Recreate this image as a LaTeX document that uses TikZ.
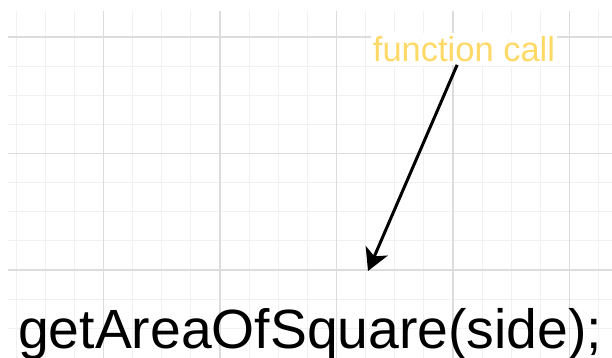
\documentclass[tikz,border=0pt]{standalone}
\usepackage{fontspec}
\setmainfont{Liberation Sans}
\usetikzlibrary{arrows.meta}
\definecolor{minorgrid}{HTML}{F1F1F1}
\definecolor{majorgrid}{HTML}{DCDCDC}
\definecolor{labelyellow}{HTML}{FFD966}
\tikzset{
  minorline/.style={draw=minorgrid, line width=1pt},
  majorline/.style={draw=majorgrid, line width=1.2pt},
  calllabel/.style={text=labelyellow, fill=white, font=\fontsize{34.5}{38}\selectfont, inner xsep=2pt, inner ysep=3pt},
  codetext/.style={text=black, font=\fontsize{55.3}{60}\selectfont, inner sep=0pt, anchor=base west},
  callarrow/.style={draw=black, line width=3pt, -{Stealth[length=22pt,width=24pt,inset=6pt]}}
}
\begin{document}
\begin{tikzpicture}[x=1pt,y=-1pt]
\useasboundingbox (0,0) rectangle (612,358);
\fill[white] (0,0) rectangle (612,358);
% minor grid
\foreach \k in {0,...,20} {
  \pgfmathsetmacro{\xx}{16.1+29.125*\k}
  \ifdim\xx pt<612pt \draw[minorline] (\xx,11) -- (\xx,358); \fi
}
\foreach \k in {0,...,10} {
  \pgfmathsetmacro{\yy}{37+29.125*\k}
  \draw[minorline] (8,\yy) -- (612,\yy);
}
% major grid
\foreach \xx in {103.5,220,336.5,453,569.5} {
  \draw[majorline] (\xx,11) -- (\xx,358);
}
\foreach \yy in {37,153.5,270} {
  \draw[majorline] (8,\yy) -- (612,\yy);
}
\node[calllabel] (label) at (464,49) {function call};
\coordinate (tip) at (368,271);
\draw[callarrow] (label) -- (tip);
\node[codetext] (code) at (18,348) {getAreaOfSquare(side);};
\end{tikzpicture}
\end{document}
